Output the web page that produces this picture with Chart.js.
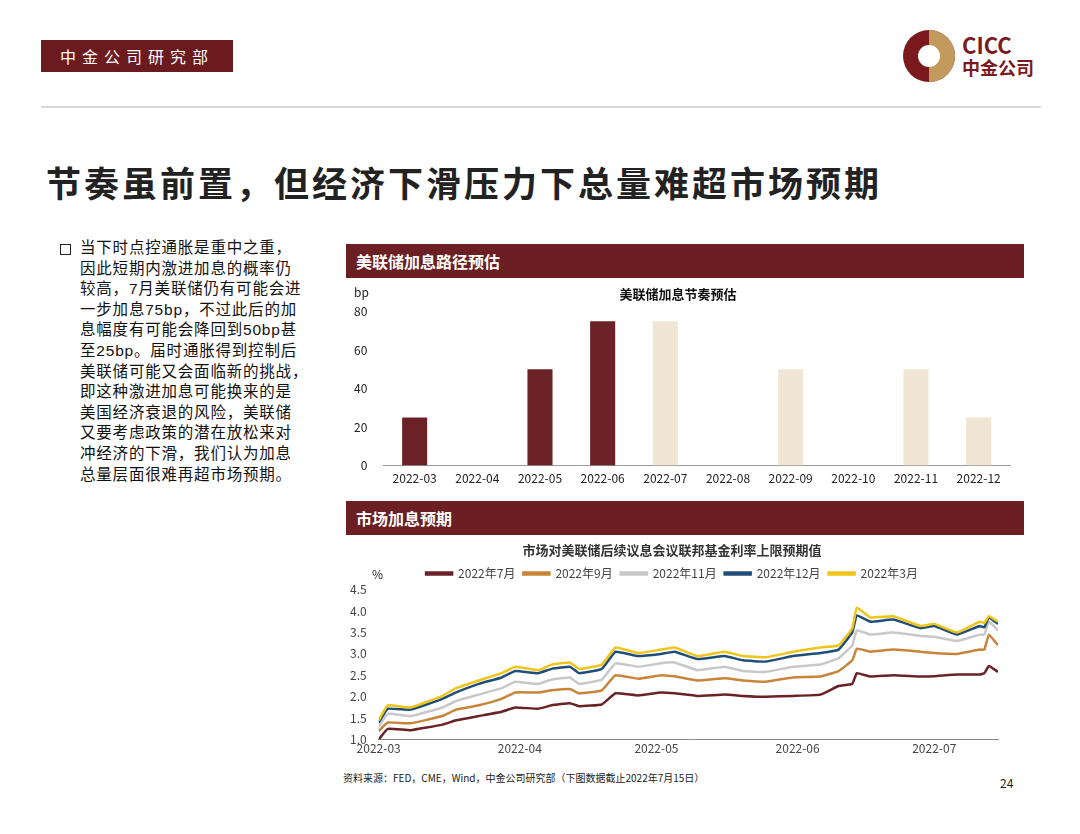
<!DOCTYPE html>
<html><head><meta charset="utf-8">
<script src="https://cdn.jsdelivr.net/npm/chart.js@4/dist/chart.umd.min.js"></script>
<style>
body{margin:0;width:1080px;height:834px;background:#fff;font-family:"Noto Sans CJK SC","Noto Sans",sans-serif;position:relative;overflow:hidden}
.abs{position:absolute}
.hdr{left:41px;top:40px;width:192px;height:32px;background:#6b1a1e;color:#fff;font-size:16px;line-height:32px;text-align:center;letter-spacing:6px}
.rule{left:41px;top:106px;width:1000px;height:2px;background:#d8d8d8}
.title{left:46px;top:158px;font-size:35px;font-weight:bold;color:#222;letter-spacing:3px;line-height:48px}
.txt{left:60px;top:238px;font-size:15.5px;line-height:20.6px;color:#111;letter-spacing:0.8px;white-space:nowrap;font-family:"Liberation Sans","Noto Sans CJK SC",sans-serif}
.bar{left:346px;width:678px;height:34px;background:#6b1f22;color:#fff;font-size:16px;line-height:34px;padding-left:10px;box-sizing:border-box;font-weight:bold}
.src{left:343px;top:770px;font-size:10px;color:#222}
.pg{left:1000px;top:774px;font-size:12px;color:#222}
</style></head><body>
<div class="abs hdr">中金公司研究部</div>
<div class="abs" style="left:903px;top:30px;width:52px;height:52px;border-radius:50%;background:#7a1a1e"></div>
<div class="abs" style="left:929px;top:30px;width:26px;height:52px;border-radius:0 26px 26px 0;background:#c39a5e"></div>
<div class="abs" style="left:918px;top:45px;width:22px;height:22px;border-radius:50%;background:#fff"></div>
<div class="abs" style="left:962px;top:32px;font-size:22px;font-weight:bold;color:#7a1a1e;line-height:24px">CICC</div>
<div class="abs" style="left:962px;top:56px;font-size:18px;font-weight:bold;color:#7a1a1e;line-height:22px">中金公司</div>
<div class="abs rule"></div>
<div class="abs title">节奏虽前置，但经济下滑压力下总量难超市场预期</div>
<div class="abs txt"><span style="position:absolute;left:0;top:6px;width:9px;height:9px;border:1.5px solid #222"></span><div style="padding-left:20px">当下时点控通胀是重中之重，<br>因此短期内激进加息的概率仍<br>较高，7月美联储仍有可能会进<br>一步加息75bp，不过此后的加<br>息幅度有可能会降回到50bp甚<br>至25bp。届时通胀得到控制后<br>美联储可能又会面临新的挑战，<br>即这种激进加息可能换来的是<br>美国经济衰退的风险，美联储<br>又要考虑政策的潜在放松来对<br>冲经济的下滑，我们认为加息<br>总量层面很难再超市场预期。</div></div>
<div class="abs bar" style="top:244px">美联储加息路径预估</div>
<div class="abs" style="left:346px;top:280px;width:678px;height:212px"><canvas id="c1"></canvas></div>
<div class="abs bar" style="top:501px">市场加息预期</div>
<div class="abs" style="left:346px;top:540px;width:678px;height:218px"><canvas id="c2"></canvas></div>
<div class="abs src">资料来源：FED，CME，Wind，中金公司研究部（下图数据截止2022年7月15日）</div>
<div class="abs pg">24</div>
<script>
const months=['2022-03','2022-04','2022-05','2022-06','2022-07','2022-08','2022-09','2022-10','2022-11','2022-12'];
const hikes=[25,0,50,75,75,0,50,0,50,25];
const isForecast=[false,false,false,false,true,true,true,true,true,true];
const days=[0,2,7,14,17,22,27,30,35,38,42,44,49,52,57,62,65,70,76,80,85,91,97,101,104,105,108,113,119,122,127,132,133,134,136];
const monthTickDays=[0,31,61,92,122];
const monthTickLabels=['2022-03','2022-04','2022-05','2022-06','2022-07'];
const jul=[1.0,1.25,1.22,1.35,1.45,1.55,1.65,1.75,1.72,1.8,1.85,1.78,1.82,2.08,2.03,2.1,2.08,2.02,2.05,2.02,2.0,2.02,2.05,2.25,2.3,2.55,2.47,2.5,2.47,2.48,2.52,2.52,2.55,2.72,2.58];
const sep=[1.2,1.4,1.38,1.55,1.7,1.8,1.95,2.1,2.1,2.15,2.18,2.08,2.15,2.5,2.42,2.5,2.48,2.38,2.43,2.38,2.35,2.45,2.47,2.6,2.85,3.12,3.05,3.1,3.05,3.02,3.0,3.1,3.1,3.45,3.2];
const nov=[1.3,1.6,1.55,1.75,1.9,2.05,2.2,2.35,2.3,2.4,2.45,2.3,2.4,2.78,2.7,2.78,2.8,2.62,2.7,2.6,2.58,2.7,2.75,2.9,3.2,3.55,3.45,3.5,3.42,3.4,3.3,3.45,3.45,3.75,3.55];
const dec=[1.4,1.72,1.7,1.95,2.1,2.3,2.45,2.6,2.55,2.65,2.7,2.55,2.65,3.05,2.95,3.0,3.05,2.88,2.95,2.85,2.82,2.95,3.02,3.1,3.5,3.9,3.75,3.8,3.6,3.65,3.45,3.65,3.62,3.85,3.7];
const mar=[1.45,1.8,1.75,2.02,2.2,2.38,2.55,2.7,2.62,2.75,2.8,2.65,2.75,3.15,3.02,3.1,3.15,2.95,3.05,2.95,2.92,3.05,3.15,3.2,3.6,4.08,3.85,3.88,3.65,3.7,3.5,3.75,3.72,3.88,3.75];
const seriesNames=['2022年7月','2022年9月','2022年11月','2022年12月','2022年3月'];
Chart.defaults.font.family='"Noto Sans CJK SC","Noto Sans",sans-serif';
Chart.defaults.color='#222';
Chart.defaults.animation=false;
const unitPlugin={id:'unit',afterDraw(c,a,o){const x=c.ctx;x.save();x.font='12px "Noto Sans CJK SC"';x.fillStyle='#222';x.fillText(o.text,c.scales.y.left+o.dx,o.y);x.restore();}};
new Chart(document.getElementById('c1'),{type:'bar',plugins:[unitPlugin],
data:{labels:months,datasets:[{data:hikes,backgroundColor:isForecast.map(f=>f?'#f1e6d3':'#6b2226'),barPercentage:0.4,categoryPercentage:1}]},
options:{responsive:true,maintainAspectRatio:false,layout:{padding:{top:4,right:14,left:0}},
plugins:{legend:{display:false},unit:{text:'bp',dx:8,y:17},title:{display:true,text:'美联储加息节奏预估',font:{size:13,weight:'bold'},color:'#111',padding:{top:2,bottom:10}}},
scales:{x:{grid:{display:false,drawTicks:false},border:{color:'#999'},ticks:{font:{size:12},padding:6}},
y:{min:0,max:80,ticks:{stepSize:20,font:{size:12},padding:8},grid:{display:false},border:{display:false}}}}});
const cols=['#6b2226','#c8843a','#c8c8c8','#1f4e79','#f0c419'];
const arrs=[jul,sep,nov,dec,mar];
new Chart(document.getElementById('c2'),{type:'line',plugins:[unitPlugin],
data:{datasets:arrs.map((a,i)=>({label:seriesNames[i],data:a.map((v,j)=>({x:days[j],y:v})),borderColor:cols[i],backgroundColor:cols[i],borderWidth:2.5,pointRadius:0,tension:0.1,order:5-i}))},
options:{responsive:true,maintainAspectRatio:false,layout:{padding:{top:0,right:26,left:0}},
plugins:{unit:{text:'%',dx:26,y:34},title:{display:true,text:'市场对美联储后续议息会议联邦基金利率上限预期值',font:{size:13,weight:'bold'},color:'#333',padding:{top:2,bottom:2}},
legend:{labels:{boxWidth:26,boxHeight:2,font:{size:12},color:'#444',padding:8,sort:(a,b)=>a.datasetIndex-b.datasetIndex}}},
scales:{x:{type:'linear',min:0,max:136,afterBuildTicks:s=>{s.ticks=monthTickDays.map(v=>({value:v}));},ticks:{callback:(v)=>monthTickLabels[monthTickDays.indexOf(v)],font:{size:12},color:'#444',maxRotation:0,padding:2},grid:{display:false,drawTicks:false},border:{color:'#888'}},
y:{min:1,max:4.5,ticks:{stepSize:0.5,callback:v=>v.toFixed(1),font:{size:12},color:'#444',padding:4},grid:{display:false},border:{display:false}}}}});
</script></body></html>
